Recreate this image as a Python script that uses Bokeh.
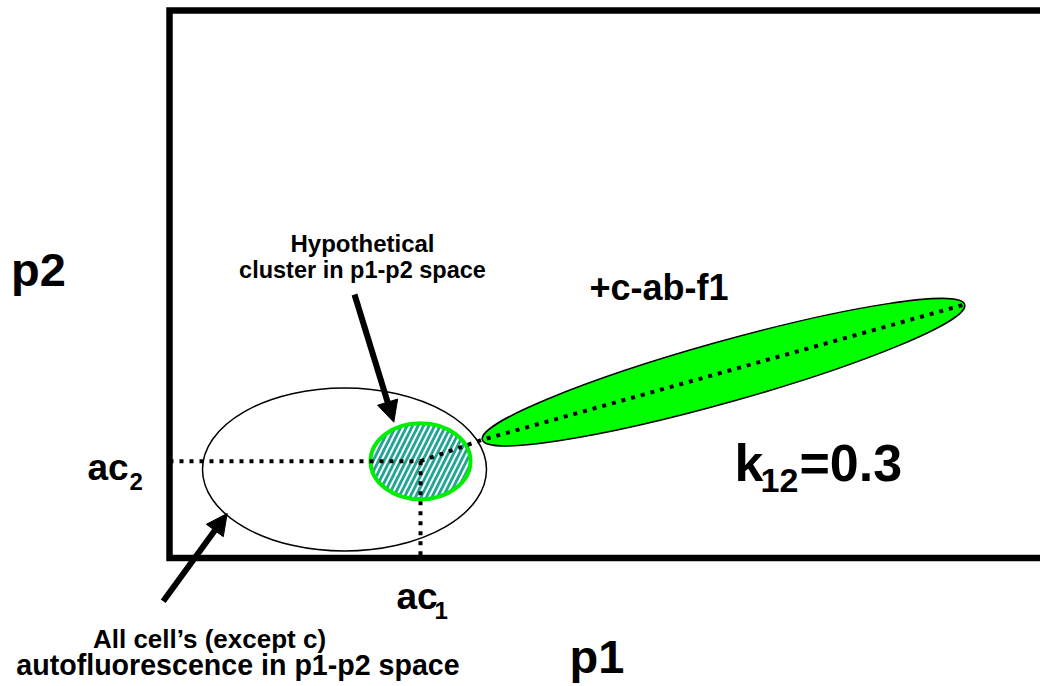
from bokeh.plotting import figure
from bokeh.models import Range1d, Arrow, NormalHead
from bokeh.core.properties import value
from bokeh.embed import file_html
from bokeh.resources import INLINE

# ---------------- data (p1 / p2 units, origin at the lower-left corner of the axes box) ----------
box_left, box_right, box_bottom, box_top = 0, 900, 0, 547.5

# all cells' autofluorescence (big open ellipse)
auto_x, auto_y, auto_w, auto_h = [175], [88.5], [284], [163]
# hypothetical cluster (hatched ellipse)  -> its centre is (ac1, ac2)
ac1, ac2 = 251, 96.8
clus_w, clus_h = [100], [76]
# +c-ab-f1 population (green ellipse)
f1_x, f1_y, f1_len, f1_wid, f1_ang = [554], [185.8], [501], [61], [15.66]
# dotted guide lines
guide_h_x, guide_h_y = [0, ac1], [ac2, ac2]
guide_v_x, guide_v_y = [ac1, ac1], [ac2, 0]
guide_d_x, guide_d_y = [ac1, 312.7, 795.3], [ac2, 118.2, 253.5]
# arrows (start -> end)
arrows = [
    (185, 263.5, 224.3, 135.8),
    (-6.3, -43.2, 57.7, 44.5),
]

FONT = value("Liberation Sans")

p = figure(width=1040, height=686,
           x_range=Range1d(-169, 871), y_range=Range1d(-128.5, 557.5),
           x_axis_type=None, y_axis_type=None,
           output_backend="svg", toolbar_location=None, min_border=0)
p.grid.visible = False
p.outline_line_color = None
p.background_fill_color = "white"
p.border_fill_color = "white"

# axes box
p.quad(left=[box_left], right=[box_right], bottom=[box_bottom], top=[box_top],
       fill_color=None, line_color="black", line_width=6.5, line_join="miter")

# big open ellipse
p.ellipse(x=auto_x, y=auto_y, width=auto_w, height=auto_h,
          fill_color="white", line_color="black", line_width=1.5)

# green elongated ellipse
p.ellipse(x=f1_x, y=f1_y, width=f1_len, height=f1_wid, angle=f1_ang, angle_units="deg",
          fill_color="#00FF00", line_color="black", line_width=1.5)

# hatched cluster ellipse
p.ellipse(x=[ac1], y=[ac2], width=clus_w, height=clus_h,
          fill_color="white", hatch_pattern="/", hatch_color="#22A596",
          hatch_weight=2.8, hatch_scale=11,
          line_color="#00EE00", line_width=4)

# dotted lines
for xs, ys in [(guide_h_x, guide_h_y), (guide_v_x, guide_v_y), (guide_d_x, guide_d_y)]:
    p.line(xs, ys, line_color="black", line_width=4, line_dash="4 6", line_cap="butt")

# arrows
for xs, ys, xe, ye in arrows:
    p.add_layout(Arrow(end=NormalHead(size=21, fill_color="black", line_color="black", line_width=1),
                       x_start=xs, y_start=ys, x_end=xe, y_end=ye,
                       line_width=6, line_color="black"))

def txt(x, y, s, size, align="left"):
    # y is the intended baseline; compensate the renderer's baseline offset
    p.text(x=[x], y=[y + 0.37 * size], text=[s], text_font=FONT, text_font_style="bold",
           text_font_size=f"{size}px", text_color="black", text_align=align,
           text_baseline="alphabetic")

# axis names
txt(-158.5, 270.8, "p2", 47)
txt(400, -115.8, "p1", 47)
# population label
txt(420, 257.5, "+c-ab-f1", 36)
# k12 = 0.3
txt(565, 75.8, "k", 52)
txt(591, 64.5, "12", 34)
txt(630, 75.8, "=0.3", 52)
# ac2, ac1
txt(-82, 76.8, "ac", 37)
txt(-40, 67.5, "2", 24)
txt(227, -51.8, "ac", 37)
txt(265, -61.5, "1", 24)
# annotations
txt(193, 305.8, "Hypothetical", 24, "center")
txt(193, 279.5, "cluster in p1-p2 space", 23.5, "center")
txt(40, -90.5, "All cell\u2019s (except c)", 26, "center")
txt(68.5, -118.0, "autofluorescence in p1-p2 space", 28.6, "center")

open("out.html", "w").write(file_html(p, INLINE))
